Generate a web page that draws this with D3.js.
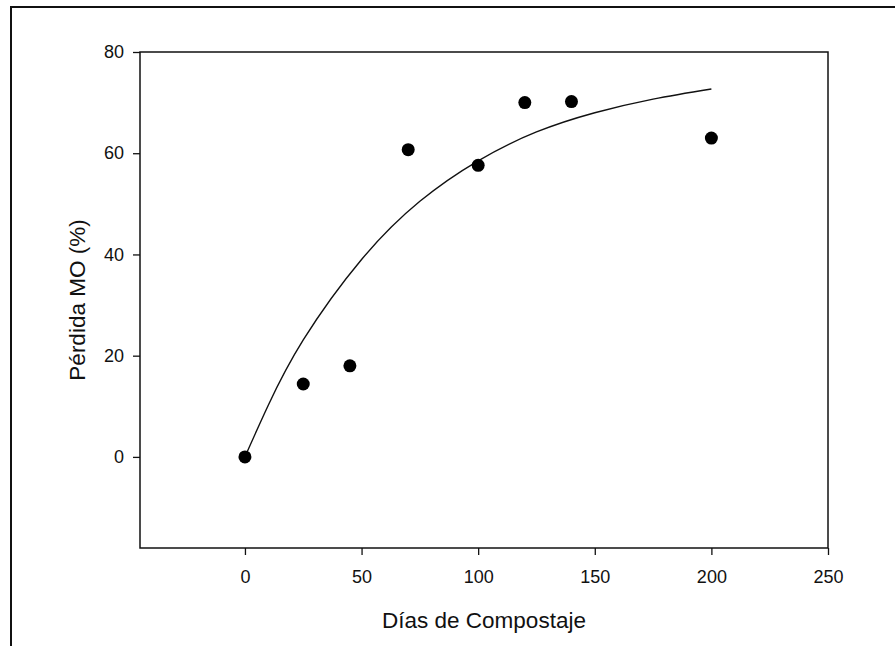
<!DOCTYPE html>
<html>
<head>
<meta charset="utf-8">
<script src="https://cdn.jsdelivr.net/npm/d3@7"></script>
<style>
  body { margin: 0; background: #fff; }
  text { font-family: "Liberation Sans", Arial, sans-serif; fill: #111; }
</style>
</head>
<body>
<svg id="chart" width="895" height="646"></svg>
<script>
// measured points
var dias = [0, 25, 45, 70, 100, 120, 140, 200];
var perdida = [0, 14.4, 18, 60.7, 57.6, 70, 70.2, 63];

// fitted curve
var curvaX = [0, 10, 25, 50, 75, 100, 125, 150, 175, 200];
var curvaY = [0, 10.2, 23.1, 39.0, 50.5, 58.5, 64.2, 68.0, 70.7, 72.7];

var xTicks = [0, 50, 100, 150, 200, 250];
var yTicks = [0, 20, 40, 60, 80];

var svg = d3.select("#chart"),
    margin = {top: 52, right: 67, bottom: 98, left: 140},
    width = +svg.attr("width") - margin.left - margin.right,
    height = +svg.attr("height") - margin.top - margin.bottom;

// outer frame of the figure
svg.append("rect")
    .attr("x", 11).attr("y", 7)
    .attr("width", 900).attr("height", 700)
    .attr("fill", "none")
    .attr("stroke", "#111")
    .attr("stroke-width", 2);

var g = svg.append("g").attr("transform", "translate(" + margin.left + "," + margin.top + ")");

var x = d3.scaleLinear().domain([-45, 250]).range([0, width]);
var y = d3.scaleLinear().domain([-18, 80]).range([height, 0]);

var xAxis = g.append("g")
    .attr("transform", "translate(0," + height + ")")
    .call(d3.axisBottom(x).tickValues(xTicks).tickSize(7).tickSizeOuter(0).tickPadding(15));

var yAxis = g.append("g")
    .call(d3.axisLeft(y).tickValues(yTicks).tickSize(7).tickSizeOuter(0).tickPadding(9));

[xAxis, yAxis].forEach(function (a) {
    a.select(".domain").remove();
    a.selectAll(".tick line").attr("stroke", "#111").attr("stroke-width", 1.3);
    a.selectAll(".tick text")
        .attr("font-size", 18)
        .attr("font-family", "Liberation Sans, Arial, sans-serif")
        .attr("fill", "#111");
});

// plot box
g.append("rect")
    .attr("width", width).attr("height", height)
    .attr("fill", "none")
    .attr("stroke", "#111")
    .attr("stroke-width", 1.5);

// fitted curve
var curva = curvaX.map(function (d, i) { return [d, curvaY[i]]; });
g.append("path")
    .datum(curva)
    .attr("fill", "none")
    .attr("stroke", "#111")
    .attr("stroke-width", 1.4)
    .attr("d", d3.line()
        .x(function (d) { return x(d[0]); })
        .y(function (d) { return y(d[1]); })
        .curve(d3.curveNatural));

// data points
g.selectAll(".punto")
    .data(dias)
    .enter().append("circle")
    .attr("class", "punto")
    .attr("cx", function (d) { return x(d); })
    .attr("cy", function (d, i) { return y(perdida[i]); })
    .attr("r", 6.5)
    .attr("fill", "#000");

// axis titles
svg.append("text")
    .attr("x", margin.left + width / 2)
    .attr("y", 628)
    .attr("text-anchor", "middle")
    .attr("font-size", 22.5)
    .text("Días de Compostaje");

svg.append("text")
    .attr("transform", "translate(85," + (margin.top + height / 2) + ") rotate(-90)")
    .attr("text-anchor", "middle")
    .attr("font-size", 22.5)
    .text("Pérdida MO (%)");
</script>
</body>
</html>
